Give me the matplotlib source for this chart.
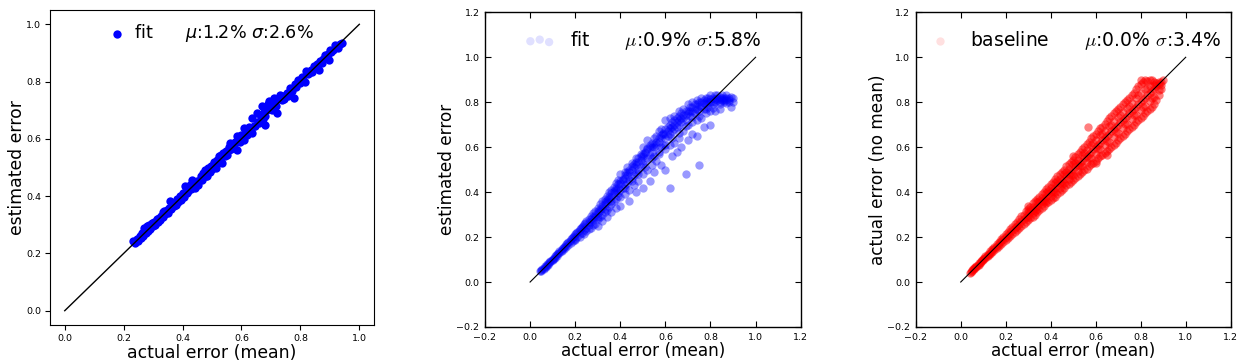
import matplotlib
matplotlib.use('Agg')
import matplotlib.pyplot as plt
from matplotlib.font_manager import FontProperties

# ---------------- data ----------------
ticks1 = [0.0, 0.2, 0.4, 0.6, 0.8, 1.0]
ticks23 = [-0.2, 0.0, 0.2, 0.4, 0.6, 0.8, 1.0, 1.2]
diag = [0.0, 1.0]

label1 = "fit      $\\mu$:1.2% $\\sigma$:2.6%"
label2 = "fit      $\\mu$:0.9% $\\sigma$:5.8%"
label3 = "baseline      $\\mu$:0.0% $\\sigma$:3.4%"

# panel 1: (actual error mean, estimated error)
fit1_pts = [
    (0.232,0.245),(0.238,0.238),(0.244,0.252),(0.248,0.243),(0.255,0.262),(0.26,0.255),
    (0.262,0.27),(0.266,0.262),(0.27,0.29),(0.275,0.27),(0.278,0.295),(0.282,0.28),
    (0.285,0.298),(0.29,0.284),(0.295,0.305),(0.3,0.296),(0.303,0.31),(0.308,0.3),
    (0.312,0.32),(0.316,0.311),(0.32,0.325),(0.323,0.317),(0.328,0.332),(0.332,0.345),
    (0.334,0.326),(0.338,0.348),(0.342,0.338),(0.346,0.352),(0.35,0.34),(0.355,0.36),
    (0.357,0.382),(0.362,0.355),(0.366,0.372),(0.37,0.365),(0.374,0.376),(0.378,0.37),
    (0.382,0.39),(0.386,0.38),(0.391,0.399),(0.395,0.388),(0.4,0.41),(0.402,0.405),
    (0.406,0.398),(0.408,0.434),(0.412,0.418),(0.416,0.41),(0.42,0.417),(0.425,0.44),
    (0.43,0.425),(0.431,0.458),(0.436,0.445),(0.442,0.428),(0.445,0.45),(0.448,0.452),
    (0.452,0.44),(0.459,0.458),(0.462,0.47),(0.466,0.455),(0.471,0.481),(0.475,0.49),
    (0.478,0.47),(0.482,0.469),(0.486,0.5),(0.488,0.492),(0.492,0.485),(0.497,0.505),
    (0.5,0.495),(0.504,0.51),(0.508,0.52),(0.512,0.5),(0.516,0.525),(0.52,0.515),
    (0.522,0.539),(0.526,0.52),(0.53,0.545),(0.533,0.516),(0.537,0.55),(0.539,0.551),
    (0.543,0.54),(0.547,0.558),(0.55,0.545),(0.556,0.562),(0.558,0.572),(0.561,0.586),
    (0.566,0.565),(0.57,0.58),(0.574,0.57),(0.578,0.59),(0.584,0.562),(0.586,0.609),
    (0.59,0.6),(0.595,0.59),(0.6,0.612),(0.604,0.605),(0.61,0.597),(0.61,0.638),
    (0.615,0.62),(0.62,0.615),(0.626,0.64),(0.63,0.625),(0.635,0.621),(0.637,0.673),
    (0.642,0.645),(0.646,0.644),(0.652,0.69),(0.656,0.66),(0.66,0.655),(0.665,0.675),
    (0.669,0.714),(0.672,0.67),(0.676,0.695),(0.68,0.679),(0.68,0.65),(0.686,0.7),
    (0.69,0.722),(0.695,0.731),(0.7,0.705),(0.703,0.7),(0.709,0.743),(0.712,0.72),
    (0.716,0.715),(0.72,0.69),(0.725,0.74),(0.731,0.754),(0.736,0.735),(0.74,0.75),
    (0.744,0.74),(0.748,0.749),(0.755,0.76),(0.758,0.75),(0.765,0.778),(0.77,0.768),
    (0.777,0.743),(0.78,0.79),(0.786,0.78),(0.791,0.807),(0.797,0.795),(0.8,0.8),
    (0.805,0.815),(0.81,0.805),(0.816,0.797),(0.82,0.836),(0.825,0.825),(0.83,0.83),
    (0.835,0.84),(0.84,0.832),(0.845,0.853),(0.852,0.85),(0.856,0.86),(0.862,0.839),
    (0.867,0.871),(0.872,0.865),(0.876,0.88),(0.884,0.894),(0.888,0.885),(0.893,0.895),
    (0.896,0.874),(0.899,0.911),(0.905,0.905),(0.91,0.912),(0.918,0.929),(0.926,0.917),
    (0.933,0.93),(0.941,0.935),
]

# panel 2: (actual error mean, estimated error)
fit2_pts = [
    (0.045,0.05),(0.05,0.055),(0.05,0.05),(0.055,0.06),(0.06,0.062),(0.06,0.058),
    (0.065,0.07),(0.07,0.072),(0.07,0.068),(0.075,0.08),(0.08,0.082),(0.08,0.078),
    (0.085,0.09),(0.09,0.092),(0.09,0.088),(0.095,0.1),(0.1,0.104),(0.1,0.098),
    (0.105,0.108),(0.11,0.115),(0.11,0.108),(0.115,0.12),(0.12,0.125),(0.12,0.118),
    (0.125,0.13),(0.13,0.136),(0.13,0.127),(0.135,0.14),(0.14,0.146),(0.14,0.137),
    (0.145,0.152),(0.15,0.157),(0.15,0.147),(0.155,0.16),(0.16,0.168),(0.16,0.155),
    (0.165,0.172),(0.17,0.178),(0.17,0.165),(0.175,0.183),(0.18,0.19),(0.18,0.175),
    (0.185,0.195),(0.19,0.2),(0.19,0.184),(0.195,0.205),(0.2,0.212),(0.2,0.193),
    (0.2,0.185),(0.205,0.218),(0.21,0.222),(0.21,0.2),(0.215,0.228),(0.22,0.235),
    (0.22,0.212),(0.22,0.2),(0.225,0.24),(0.23,0.245),(0.23,0.22),(0.235,0.25),
    (0.24,0.258),(0.24,0.232),(0.24,0.215),(0.245,0.262),(0.25,0.27),(0.25,0.24),
    (0.25,0.225),
    (0.26,0.282),(0.26,0.255),(0.26,0.235),(0.27,0.295),(0.27,0.268),(0.27,0.24),
    (0.28,0.305),(0.28,0.278),(0.28,0.255),(0.29,0.318),(0.29,0.29),(0.29,0.26),
    (0.3,0.33),(0.3,0.305),(0.3,0.28),(0.3,0.25),(0.31,0.345),(0.31,0.315),
    (0.31,0.29),(0.32,0.36),(0.32,0.33),(0.32,0.3),(0.32,0.27),(0.33,0.37),
    (0.33,0.345),(0.33,0.31),(0.34,0.385),(0.34,0.355),(0.34,0.32),(0.34,0.29),
    (0.35,0.4),(0.35,0.37),(0.35,0.335),(0.36,0.41),(0.36,0.38),(0.36,0.345),
    (0.36,0.31),(0.37,0.425),(0.37,0.395),(0.37,0.36),(0.38,0.44),(0.38,0.41),
    (0.38,0.37),(0.38,0.33),(0.39,0.455),(0.39,0.42),(0.39,0.385),(0.4,0.48),
    (0.4,0.44),(0.4,0.41),(0.4,0.38),(0.4,0.34),
    (0.41,0.455),(0.41,0.42),(0.42,0.49),(0.42,0.465),(0.42,0.43),(0.42,0.39),
    (0.43,0.51),(0.43,0.475),(0.43,0.44),(0.44,0.49),(0.44,0.455),(0.44,0.41),
    (0.44,0.36),(0.45,0.53),(0.45,0.5),(0.45,0.465),(0.46,0.51),(0.46,0.475),
    (0.46,0.43),(0.47,0.55),(0.47,0.52),(0.47,0.485),(0.47,0.4),(0.48,0.535),
    (0.48,0.5),(0.48,0.45),(0.49,0.57),(0.49,0.545),(0.49,0.51),(0.5,0.6),
    (0.5,0.56),(0.5,0.525),(0.5,0.48),(0.5,0.42),(0.51,0.575),(0.51,0.54),
    (0.52,0.63),(0.52,0.59),(0.52,0.55),(0.52,0.5),(0.53,0.61),(0.53,0.565),
    (0.53,0.45),(0.54,0.62),(0.54,0.58),(0.54,0.52),(0.55,0.64),(0.55,0.6),
    (0.55,0.56),(0.55,0.49),
    (0.56,0.65),(0.56,0.61),(0.56,0.54),(0.57,0.67),(0.57,0.625),(0.57,0.58),
    (0.58,0.68),(0.58,0.64),(0.58,0.6),(0.58,0.52),(0.59,0.66),(0.59,0.61),
    (0.6,0.72),(0.6,0.68),(0.6,0.64),(0.6,0.59),(0.6,0.5),(0.61,0.69),
    (0.61,0.65),(0.62,0.73),(0.62,0.7),(0.62,0.66),(0.62,0.61),(0.62,0.42),
    (0.63,0.71),(0.63,0.67),(0.63,0.56),(0.64,0.74),(0.64,0.72),(0.64,0.68),
    (0.64,0.62),(0.65,0.73),(0.65,0.69),(0.65,0.58),(0.66,0.76),(0.66,0.74),
    (0.66,0.7),(0.66,0.64),(0.67,0.75),(0.67,0.71),(0.67,0.6),(0.68,0.77),
    (0.68,0.73),(0.68,0.67),(0.69,0.76),(0.69,0.72),(0.69,0.48),(0.7,0.79),
    (0.7,0.75),(0.7,0.7),(0.7,0.63),
    (0.71,0.78),(0.71,0.74),(0.72,0.8),(0.72,0.76),(0.72,0.71),(0.72,0.66),
    (0.73,0.79),(0.73,0.75),(0.74,0.81),(0.74,0.77),(0.74,0.72),(0.74,0.65),
    (0.75,0.8),(0.75,0.76),(0.75,0.52),(0.76,0.82),(0.76,0.78),(0.76,0.73),
    (0.77,0.81),(0.77,0.77),(0.77,0.69),(0.78,0.82),(0.78,0.79),(0.78,0.75),
    (0.79,0.82),(0.79,0.78),(0.8,0.83),(0.8,0.8),(0.8,0.76),(0.8,0.7),
    (0.81,0.82),(0.81,0.79),(0.82,0.83),(0.82,0.8),(0.82,0.76),(0.83,0.83),
    (0.83,0.81),(0.84,0.825),(0.84,0.8),(0.84,0.77),(0.85,0.83),(0.85,0.81),
    (0.86,0.82),(0.86,0.8),(0.87,0.83),(0.87,0.81),(0.88,0.82),(0.88,0.8),
    (0.89,0.825),(0.89,0.78),(0.9,0.82),(0.9,0.8),
    # dense core along the band
    (0.26,0.268),(0.27,0.28),(0.28,0.29),(0.29,0.3),(0.3,0.315),(0.31,0.325),
    (0.32,0.34),(0.33,0.355),(0.34,0.365),(0.35,0.38),(0.36,0.395),(0.37,0.405),
    (0.38,0.42),(0.39,0.435),(0.4,0.45),(0.41,0.46),(0.42,0.475),(0.43,0.49),
    (0.44,0.5),(0.45,0.515),(0.46,0.525),(0.47,0.535),(0.48,0.55),(0.49,0.56),
    (0.5,0.57),(0.51,0.58),(0.52,0.595),(0.53,0.6),(0.54,0.6),(0.55,0.615),
    (0.56,0.625),(0.57,0.64),(0.58,0.655),(0.59,0.665),(0.6,0.66),(0.61,0.67),
    (0.62,0.685),(0.63,0.69),(0.64,0.7),(0.65,0.71),(0.66,0.72),(0.67,0.73),
    (0.68,0.745),(0.69,0.745),(0.7,0.76),(0.71,0.76),(0.72,0.78),(0.73,0.77),
    (0.74,0.79),(0.75,0.785),(0.76,0.8),(0.77,0.795),(0.78,0.805),(0.79,0.8),
    (0.8,0.815),(0.81,0.805),(0.82,0.815),(0.83,0.82),(0.84,0.815),(0.85,0.82),
    (0.86,0.81),(0.87,0.82),(0.88,0.81),
    (0.3,0.29),(0.33,0.325),(0.36,0.36),(0.39,0.395),(0.42,0.42),(0.45,0.45),
    (0.48,0.48),(0.51,0.51),(0.54,0.55),(0.57,0.57),(0.6,0.61),(0.63,0.64),
    (0.66,0.665),(0.69,0.695),(0.72,0.735),(0.75,0.74),(0.78,0.77),(0.81,0.775),
    (0.84,0.79),(0.87,0.795),
]

# panel 3: (actual error mean, actual error no mean)
base3_pts = [
    (0.04,0.04),(0.045,0.045),(0.05,0.048),(0.05,0.053),(0.055,0.056),(0.06,0.058),
    (0.06,0.063),(0.065,0.066),(0.07,0.068),(0.07,0.073),(0.075,0.076),(0.08,0.077),
    (0.08,0.084),(0.085,0.086),(0.09,0.087),(0.09,0.094),(0.095,0.096),(0.1,0.096),
    (0.1,0.104),(0.105,0.106),(0.11,0.105),(0.11,0.115),(0.115,0.117),(0.12,0.114),
    (0.12,0.126),(0.125,0.126),(0.13,0.124),(0.13,0.137),(0.135,0.135),(0.14,0.133),
    (0.14,0.148),(0.145,0.146),(0.15,0.142),(0.15,0.158),(0.155,0.156),(0.16,0.151),
    (0.16,0.169),(0.165,0.166),(0.17,0.16),(0.17,0.18),(0.175,0.176),(0.18,0.17),
    (0.18,0.19),(0.185,0.186),(0.19,0.179),(0.19,0.201),(0.195,0.196),(0.2,0.188),
    (0.2,0.212),(0.205,0.205),(0.21,0.197),(0.21,0.223),(0.215,0.215),(0.22,0.206),
    (0.22,0.234),(0.225,0.226),(0.23,0.215),(0.23,0.245),(0.235,0.236),(0.24,0.224),
    (0.24,0.256),(0.245,0.246),(0.25,0.232),(0.25,0.268),(0.25,0.25),
    (0.26,0.26),(0.26,0.24),(0.26,0.28),(0.27,0.27),(0.27,0.25),(0.27,0.295),
    (0.28,0.28),(0.28,0.26),(0.28,0.3),(0.29,0.29),(0.29,0.265),(0.29,0.315),
    (0.3,0.3),(0.3,0.275),(0.3,0.325),(0.3,0.34),(0.31,0.31),(0.31,0.285),
    (0.31,0.335),(0.32,0.32),(0.32,0.29),(0.32,0.35),(0.33,0.33),(0.33,0.3),
    (0.33,0.36),(0.34,0.34),(0.34,0.31),(0.34,0.37),(0.35,0.35),(0.35,0.32),
    (0.35,0.38),(0.36,0.36),(0.36,0.33),(0.36,0.39),(0.37,0.37),(0.37,0.34),
    (0.37,0.4),(0.38,0.38),(0.38,0.35),(0.38,0.415),(0.39,0.39),(0.39,0.355),
    (0.39,0.425),(0.4,0.4),(0.4,0.365),(0.4,0.435),(0.41,0.41),(0.41,0.375),
    (0.41,0.445),(0.42,0.42),(0.42,0.38),(0.42,0.46),(0.43,0.43),(0.43,0.39),
    (0.43,0.47),(0.44,0.44),(0.44,0.4),(0.44,0.48),(0.45,0.45),(0.45,0.41),
    (0.45,0.49),(0.46,0.46),(0.46,0.42),(0.46,0.5),(0.47,0.47),(0.47,0.43),
    (0.47,0.515),(0.48,0.48),(0.48,0.435),(0.48,0.525),(0.49,0.49),(0.49,0.445),
    (0.49,0.535),(0.5,0.5),(0.5,0.455),(0.5,0.545),(0.5,0.56),
    (0.51,0.51),(0.51,0.465),(0.51,0.555),(0.52,0.52),(0.52,0.47),(0.52,0.57),
    (0.53,0.53),(0.53,0.48),(0.53,0.58),(0.54,0.54),(0.54,0.49),(0.54,0.59),
    (0.55,0.55),(0.55,0.5),(0.55,0.6),(0.56,0.56),(0.56,0.505),(0.56,0.615),
    (0.57,0.57),(0.57,0.515),(0.57,0.625),(0.567,0.691),(0.58,0.58),(0.58,0.525),
    (0.58,0.64),(0.59,0.59),(0.59,0.53),(0.59,0.65),(0.6,0.6),(0.6,0.54),
    (0.6,0.66),(0.6,0.53),(0.61,0.61),(0.61,0.55),(0.61,0.67),(0.62,0.62),
    (0.62,0.56),(0.62,0.685),(0.63,0.63),(0.63,0.565),(0.63,0.69),(0.64,0.64),
    (0.64,0.575),(0.64,0.705),(0.649,0.565),(0.65,0.65),(0.65,0.585),(0.65,0.715),
    (0.66,0.66),(0.66,0.59),(0.66,0.73),(0.67,0.67),(0.67,0.6),(0.67,0.74),
    (0.68,0.68),(0.68,0.61),(0.68,0.75),(0.69,0.69),(0.69,0.62),(0.69,0.76),
    (0.7,0.7),(0.7,0.63),(0.7,0.77),(0.71,0.71),(0.71,0.64),(0.71,0.78),
    (0.72,0.72),(0.72,0.65),(0.72,0.79),(0.73,0.73),(0.73,0.66),(0.73,0.8),
    (0.74,0.74),(0.74,0.67),(0.74,0.81),(0.75,0.75),(0.75,0.68),(0.75,0.82),
    (0.76,0.76),(0.76,0.69),(0.76,0.83),(0.77,0.77),(0.77,0.7),(0.77,0.84),
    (0.78,0.78),(0.78,0.71),(0.78,0.86),(0.79,0.79),(0.79,0.72),(0.79,0.87),
    (0.8,0.8),(0.8,0.73),(0.8,0.88),(0.8,0.9),(0.81,0.81),(0.81,0.74),
    (0.81,0.89),(0.82,0.82),(0.82,0.75),(0.82,0.9),(0.83,0.83),(0.83,0.76),
    (0.83,0.895),(0.84,0.84),(0.84,0.77),(0.84,0.9),(0.85,0.85),(0.85,0.78),
    (0.85,0.9),(0.86,0.86),(0.86,0.79),(0.86,0.89),(0.87,0.87),(0.87,0.81),
    (0.88,0.88),(0.88,0.83),(0.89,0.89),(0.89,0.86),(0.9,0.9),
    # points between the core and the edges
    (0.3,0.312),(0.3,0.288),(0.32,0.335),(0.32,0.305),(0.34,0.355),(0.34,0.325),
    (0.36,0.375),(0.36,0.345),(0.38,0.398),(0.38,0.362),(0.4,0.418),(0.4,0.382),
    (0.42,0.44),(0.42,0.4),(0.44,0.46),(0.44,0.42),(0.46,0.48),(0.46,0.44),
    (0.48,0.502),(0.48,0.458),(0.5,0.523),(0.5,0.477),(0.52,0.545),(0.52,0.495),
    (0.54,0.565),(0.54,0.515),(0.56,0.588),(0.56,0.532),(0.58,0.61),(0.58,0.552),
    (0.6,0.63),(0.6,0.57),(0.62,0.652),(0.62,0.59),(0.64,0.672),(0.64,0.608),
    (0.66,0.695),(0.66,0.625),(0.68,0.715),(0.68,0.645),(0.7,0.735),(0.7,0.665),
    (0.72,0.755),(0.72,0.685),(0.74,0.775),(0.74,0.705),(0.76,0.795),(0.76,0.725),
    (0.78,0.82),(0.78,0.745),(0.8,0.84),(0.8,0.765),(0.82,0.86),(0.82,0.785),
    (0.84,0.87),(0.84,0.805),(0.86,0.875),(0.86,0.825),(0.88,0.89),(0.88,0.855),
    (0.31,0.322),(0.33,0.318),(0.35,0.362),(0.37,0.36),(0.39,0.405),(0.41,0.4),
    (0.43,0.448),(0.45,0.438),(0.47,0.49),(0.49,0.478),(0.51,0.53),(0.53,0.515),
    (0.55,0.575),(0.57,0.553),(0.59,0.62),(0.61,0.59),(0.63,0.66),(0.65,0.628),
    (0.67,0.7),(0.69,0.668),(0.71,0.745),(0.73,0.705),(0.75,0.785),(0.77,0.745),
    (0.79,0.83),(0.81,0.78),(0.83,0.865),(0.85,0.82),(0.87,0.885),(0.89,0.875),
]

fit1_x, fit1_y = zip(*fit1_pts)
fit2_x, fit2_y = zip(*fit2_pts)
base3_x, base3_y = zip(*base3_pts)

# ---------------- figure ----------------
fig = plt.figure(figsize=(12.41, 3.61), dpi=100)
fig.patch.set_facecolor('white')

# Panel 1 (modern style)
ax1 = fig.add_axes([0.0403, 0.0997, 0.2611, 0.8726])
ax1.scatter(fit1_x, fit1_y, s=36, c='#0000ff', linewidths=0, label=label1, zorder=2)
ax1.plot(diag, diag, color='black', lw=1.0, zorder=3)
ax1.set_xlim(-0.05, 1.05)
ax1.set_ylim(-0.05, 1.05)
ax1.set_xticks(ticks1)
ax1.set_yticks(ticks1)
ax1.tick_params(labelsize=6.8, length=3.5, width=0.8, pad=3)
ax1.set_xlabel('actual error (mean)', fontsize=12.4, labelpad=1)
ax1.set_ylabel('estimated error', fontsize=12.4, labelpad=0)
ax1.legend(loc='upper center', frameon=False, fontsize=12.6, scatterpoints=1,
           handlelength=0.8, handletextpad=0.6, borderaxespad=0.3)

cm_prop = FontProperties(family='DejaVu Sans', size=13.5, math_fontfamily='cm')


def classic_axes(rect, xs, ys, color, alpha, label, ylabel, npts):
    ax = fig.add_axes(rect)
    ax.scatter(xs, ys, s=36, c=color, alpha=alpha, linewidths=0, label=label, zorder=2)
    ax.plot(diag, diag, color='black', lw=0.8, zorder=3)
    ax.set_xlim(-0.2, 1.2)
    ax.set_ylim(-0.2, 1.2)
    ax.set_xticks(ticks23)
    ax.set_yticks(ticks23)
    ax.tick_params(direction='in', top=True, right=True, length=4, width=0.8,
                   labelsize=6.8, pad=4)
    for sp in ax.spines.values():
        sp.set_linewidth(1.0)
    ax.set_xlabel('actual error (mean)', fontsize=12.2, labelpad=0)
    ax.set_ylabel(ylabel, fontsize=12.2, labelpad=0)
    leg = ax.legend(loc='upper center', frameon=False, prop=cm_prop, scatterpoints=npts,
                    scatteryoffsets=[0.375, 0.5, 0.3125], handlelength=1.6,
                    handletextpad=0.8, borderaxespad=0.5)
    for h in leg.legend_handles:
        h.set_alpha(0.12)
    return ax


ax2 = classic_axes([0.3908, 0.0942, 0.2544, 0.8717], fit2_x, fit2_y, '#0000ff', 0.4,
                   label2, 'estimated error', 3)
ax3 = classic_axes([0.7379, 0.0942, 0.2538, 0.8717], base3_x, base3_y, '#ff0000', 0.5,
                   label3, 'actual error (no mean)', 1)

fig.savefig('out.png', dpi=100, facecolor='white')
